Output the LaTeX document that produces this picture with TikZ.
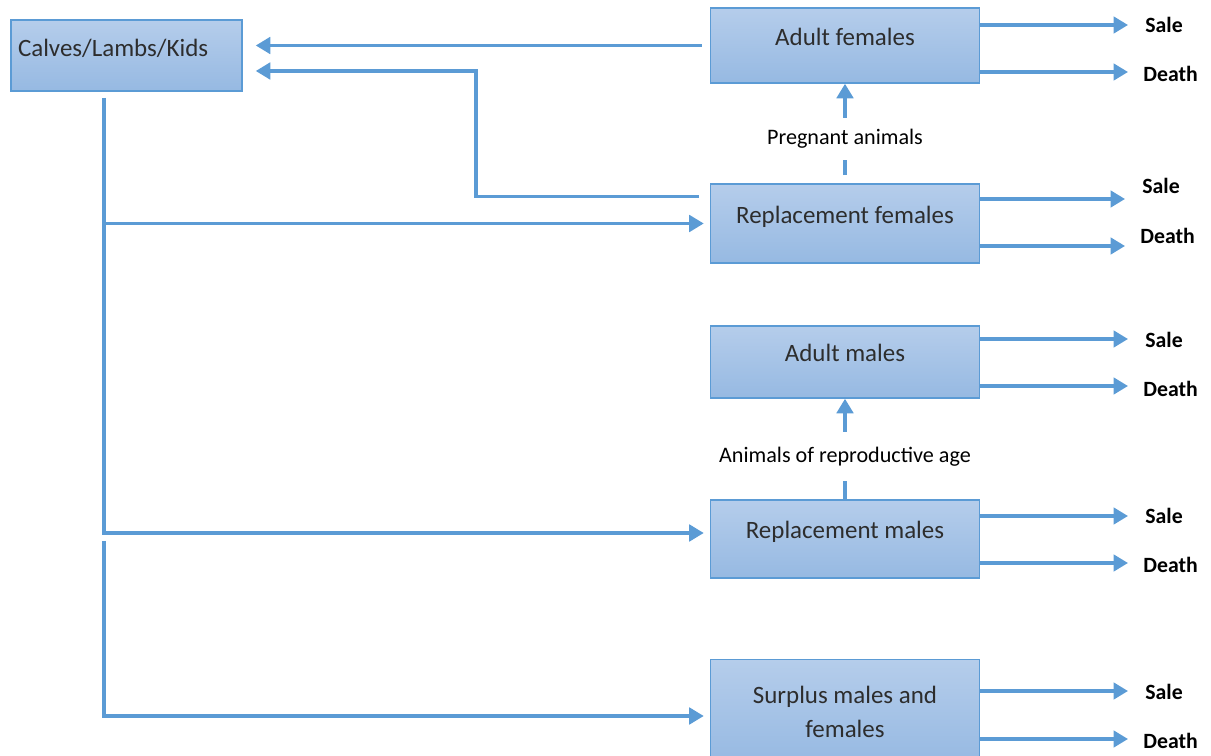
\documentclass[tikz,border=0pt]{standalone}
\usepackage{fontspec}
\setmainfont{Carlito}
\usepackage{tikz}
\usetikzlibrary{arrows.meta,positioning,calc}
\definecolor{boxline}{RGB}{91,155,213}
\definecolor{boxtop}{RGB}{181,205,235}
\definecolor{boxbot}{RGB}{150,185,226}
\definecolor{boxtext}{RGB}{45,45,45}

\begin{document}
\begin{tikzpicture}[x=0.02cm,y=-0.02cm,
  stock/.style={draw=boxline,line width=0.9pt,top color=boxtop,bottom color=boxbot,
    minimum width=5.38cm,inner sep=0pt,text=boxtext,
    font=\fontsize{14.2pt}{19pt}\selectfont,text height=0.36cm,text depth=0.36cm},
  fate/.style={font=\fontsize{12.4pt}{14pt}\selectfont\bfseries,anchor=west,inner sep=0pt},
  stage/.style={font=\fontsize{12.6pt}{15pt}\selectfont,inner sep=0pt},
  link/.style={draw=boxline,line width=1.9pt},
  flow/.style={link,-{Triangle[length=2.9mm,width=3.3mm]}}]
\useasboundingbox (0,0) rectangle (1211,756);
% --- herd classes ---
\node[stock,minimum width=4.62cm,minimum height=1.42cm,text width=4.34cm,align=left,
  inner xsep=0.14cm,text depth=0.30cm] (cv) at (126.5,55.5) {Calves/Lambs/Kids};
\node[stock,minimum height=1.50cm] (af) at (845,45.5) {Adult females};
\node[stock,minimum height=1.58cm] (rf) at (845,223.5) {Replacement females};
\node[stock,minimum height=1.44cm] (am) at (845,362) {Adult males};
\node[stock,minimum height=1.56cm] (rm) at (845,539) {Replacement males};
\node[stock,minimum height=2.10cm,align=center,text height=,text depth=] (sp) at (845,712)
  {Surplus males and\\females};
% --- transitions between classes ---
\node[stage,minimum height=0.84cm] (preg) at (845,139) {Pregnant animals};
\node[stage,minimum height=0.98cm] (repro) at (845,456.5) {Animals of reproductive age};
\draw[link,shorten <=1.6mm] (rf.north) -- (preg.south);
\draw[flow] (preg.north) -- (af.south);
\draw[link] (rm.north) -- (repro.south);
\draw[flow] (repro.north) -- (am.south);
% --- births back to the young ---
\coordinate (bend) at (476,71);
\draw[flow,shorten <=1.6mm,shorten >=2.6mm] (af.west) -- (cv.east |- af.west);
\draw[flow,shorten >=2.6mm] ([shift={(-11,13)}]rf.north west) -| (bend) -- (cv.east |- bend);
% --- young to replacement / surplus ---
\coordinate (t0) at (104,98);
\coordinate (t1) at (104,541);
\draw[flow,shorten >=1.2mm] (t0) |- ($(rm.west)+(0,-6)$);
\draw[flow,shorten >=1.2mm] (t0 |- rf.west) -- (rf.west);
\draw[flow,shorten >=1.2mm] (t1) |- ($(sp.west)+(0,4)$);
% --- outflows ---
\foreach \b/\ys/\yd/\ls/\ld/\tip in {af/25/72/25/74/1128,rf/199/246/186/236/1125,
    am/339/386/340/389/1128,rm/516/563/516/565/1128,sp/691/739/692/741/1128}{
  \coordinate (s-\b) at (\tip,\ys);
  \coordinate (d-\b) at (\tip,\yd);
  \draw[flow] (\b.east |- s-\b) -- (s-\b);
  \draw[flow] (\b.east |- d-\b) -- (d-\b);
  \node[fate] (sale-\b) at (\tip+17,\ls) {Sale};
  \node[fate] (death-\b) at (\tip+15,\ld) {Death};
}
\end{tikzpicture}
\end{document}
